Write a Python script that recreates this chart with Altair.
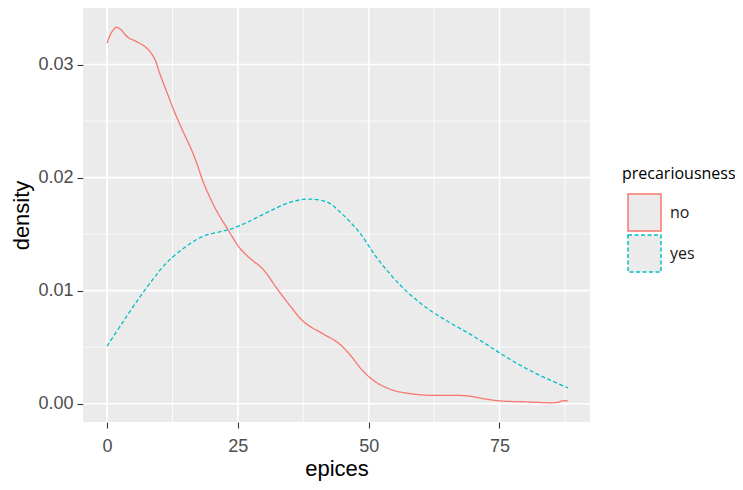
import altair as alt
import pandas as pd

# ---- data ----
epices_no = [0, 0.8, 1.8, 2.6, 4.0, 5.3, 6.9, 8.1, 9.1, 10.0, 11.3, 12.9, 14.5, 16.1,
             17.2, 18.3, 19.5, 21.0, 23.1, 25.3, 27.2, 29.8, 32.3, 34.9, 37.7, 41.2,
             44.1, 46.3, 48.9, 51.4, 54.6, 57.8, 61.0, 68.6, 72.5, 75.0, 80.1, 85.8,
             87.1, 88.1]
density_no = [0.0319, 0.0328, 0.0333, 0.0331, 0.0324, 0.0321, 0.0317, 0.0312, 0.0305,
              0.0293, 0.0277, 0.0258, 0.0241, 0.0225, 0.0212, 0.0197, 0.0184, 0.0170,
              0.0154, 0.0138, 0.0129, 0.0119, 0.0103, 0.0087, 0.0072, 0.0062, 0.0054,
              0.0044, 0.0029, 0.0019, 0.0012, 0.0009, 0.00075, 0.0007, 0.0004, 0.00025,
              0.00016, 0.0001, 0.00025, 0.00025]

epices_yes = [0, 3.0, 6.2, 8.75, 10.3, 11.9, 15.1, 18.3, 21.5, 23.4, 26.6, 27.9, 31.4,
              34.9, 38.5, 42.2, 45.1, 48.3, 51.4, 54.6, 57.8, 61.6, 65.4, 69.2, 72.5,
              75.0, 78.2, 81.4, 84.6, 88.1]
density_yes = [0.0051, 0.0072, 0.0094, 0.0110, 0.0119, 0.0127, 0.0139, 0.0148, 0.0152,
               0.0154, 0.0160, 0.0163, 0.0171, 0.0178, 0.0181, 0.0178, 0.0167, 0.0151,
               0.0130, 0.0112, 0.0097, 0.0083, 0.0072, 0.0062, 0.00525, 0.0045, 0.0036,
               0.0028, 0.0021, 0.0014]

groups = ["no", "yes"]
group_colors = ["#F8766D", "#00BFC4"]

x_major = [0, 25, 50, 75]
x_minor = [12.5, 37.5, 62.5, 87.5]
y_major = [0.0, 0.01, 0.02, 0.03]
y_minor = [0.005, 0.015, 0.025]

# ---- tables ----
df = pd.DataFrame({
    "epices": epices_no + epices_yes,
    "density": density_no + density_yes,
    "precariousness": ["no"] * len(epices_no) + ["yes"] * len(epices_yes),
})

x_scale = alt.Scale(domain=[-4.6, 92.3], nice=False, zero=False)
y_scale = alt.Scale(domain=[-0.00162, 0.035], nice=False, zero=False)

x_axis = alt.Axis(values=x_major, grid=False, domain=False, tickSize=6,
                  tickColor="#333333", tickWidth=1.1, labelFontSize=18,
                  labelColor="#4D4D4D", labelFont="Liberation Sans", labelPadding=9,
                  title="epices", titleFont="Liberation Sans", titleFontSize=22,
                  titleFontWeight="normal", titleColor="#000000", titlePadding=3)
y_axis = alt.Axis(values=y_major, format=".2f", grid=False, domain=False, tickSize=6,
                  tickColor="#333333", tickWidth=1.1, labelFontSize=18,
                  labelColor="#4D4D4D", labelFont="Liberation Sans", labelPadding=4,
                  title="density", titleFont="Liberation Sans", titleFontSize=22,
                  titleFontWeight="normal", titleColor="#000000", titlePadding=4)

X = alt.X("epices:Q", scale=x_scale, axis=x_axis)
Y = alt.Y("density:Q", scale=y_scale, axis=y_axis)

minor_x = alt.Chart(pd.DataFrame({"epices": x_minor})).mark_rule(
    color="white", strokeWidth=0.8).encode(x=X)
minor_y = alt.Chart(pd.DataFrame({"density": y_minor})).mark_rule(
    color="white", strokeWidth=0.8).encode(y=Y)
major_x = alt.Chart(pd.DataFrame({"epices": x_major})).mark_rule(
    color="white", strokeWidth=1.6).encode(x=X)
major_y = alt.Chart(pd.DataFrame({"density": y_major})).mark_rule(
    color="white", strokeWidth=1.6).encode(y=Y)

leg = alt.Legend(
    title="precariousness", orient="none", legendX=539, legendY=158,
    symbolType="M-0.892,-1H0.892V1H-0.892Z", symbolSize=1369,
    symbolFillColor="#EBEBEB", symbolStrokeWidth=1.5, symbolOffset=3,
    labelOffset=6, labelFont="Open Sans", labelFontSize=16, labelColor="#1A1A1A",
    titleFont="Open Sans", titleFontSize=16, titleFontWeight="normal",
    titleColor="#000000", titlePadding=11, rowPadding=-4, padding=0,
)

lines = alt.Chart(df).mark_line(strokeWidth=1.3, interpolate="catmull-rom").encode(
    x=X, y=Y,
    color=alt.Color("precariousness:N",
                    scale=alt.Scale(domain=groups, range=group_colors), legend=leg),
    strokeDash=alt.StrokeDash("precariousness:N",
                              scale=alt.Scale(domain=groups, range=[[1, 0], [4, 2.5]]),
                              legend=leg),
)

chart = alt.layer(minor_x, minor_y, major_x, major_y, lines).properties(
    width=507, height=414,
    autosize=alt.AutoSizeParams(type="none"),
    padding={"left": 75, "top": 0, "right": 145, "bottom": 60},
    background="white",
).configure_view(fill="#EBEBEB", strokeWidth=0)

chart.save("out.html", embed_options={"renderer": "svg", "actions": False})
